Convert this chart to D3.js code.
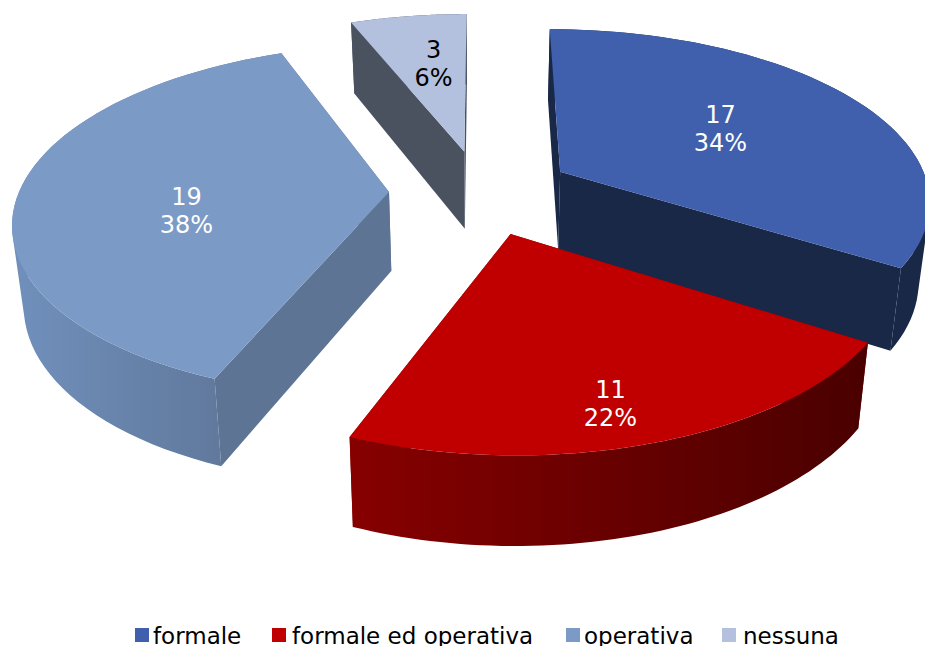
<!DOCTYPE html>
<html><head><meta charset="utf-8">
<script src="https://cdn.jsdelivr.net/npm/d3@7/dist/d3.min.js"></script>
<style>html,body{margin:0;padding:0;background:#fff;overflow:hidden}svg{display:block}text{font-family:"DejaVu Sans",sans-serif}</style>
</head><body><svg id="c" width="925" height="646"></svg>
<script>
const categories = ["formale","formale ed operativa","operativa","nessuna"];
const values = [17,11,19,3];
const percents = ["34%","22%","38%","6%"];
const topColors = ["#4060AE","#C00000","#7C9AC6","#B3C1DE"];
const wallColors = ["#1A2848","#7E0000","#5E7495","#4A5260"];
const wallGradFrom = ["#1A2848","#870000","#7090BC","#4A5260"];
const wallGradTo = ["#1A2848","#4A0000","#5C7293","#4A5260"];
const labelColors = ["#fff","#fff","#fff","#000"];
const labelNudgeX = [-5,26,1,2];
const labelNudgeY = [-3,62,17,-11];
const legendX = [135,272,566,722];
const textX = [153,292,584,743];

const cx=481, cy=192, R=370, explode=92, d=2400, k=0.463, p=1.03, depth=79, shrink=0.975;
const svg=d3.select("#c");
const defs=svg.append("defs");
const pie=d3.pie().sort(null).value(v=>v)(values);
const proj=(X,Y,bottom)=>{
  const s=1/(1+Y/d);
  let x=cx+X*s, y=cy-k*Y*Math.pow(s,p);
  if(bottom){ x=cx+(x-cx)*shrink; y+=depth*Math.pow(s,0.65); }
  return [x,y];
};
const line=d3.line();
// keeps every quad wound the same way, so overlaps in one path never cancel
const wound=q=>d3.polygonArea(q)<0?q.slice().reverse():q;
const slices=pie.map((a,i)=>{
  const mid=(a.startAngle+a.endAngle)/2;
  const ox=explode*Math.sin(mid), oy=explode*Math.cos(mid);
  const pt=(ang,r,b)=>proj(ox+r*Math.sin(ang),oy+r*Math.cos(ang),b);
  const angs=d3.range(0,61).map(j=>a.startAngle+(a.endAngle-a.startAngle)*j/60);
  return {i,mid,pt,angs};
});
// painter's order: back slices first
[3,2,0,1].forEach(i=>{
  const sl=slices[i], g=svg.append("g"), {pt,angs}=sl;
  const apexT=pt(0,0,false), apexB=pt(0,0,true);
  const arcT=angs.map(a=>pt(a,R,false)), arcB=angs.map(a=>pt(a,R,true));
  const xs=d3.extent(arcT,q=>q[0]);
  const grad=defs.append("linearGradient").attr("id","w"+i).attr("gradientUnits","userSpaceOnUse")
    .attr("x1",xs[0]).attr("x2",xs[1]).attr("y1",0).attr("y2",0);
  grad.append("stop").attr("offset",0).attr("stop-color",wallGradFrom[i]);
  grad.append("stop").attr("offset",1).attr("stop-color",wallGradTo[i]);
  g.append("path").attr("d",line([apexT,arcT[0],arcB[0],apexB])+"Z").attr("fill",wallColors[i]);
  g.append("path").attr("d",line([apexT,arcT[60],arcB[60],apexB])+"Z").attr("fill",wallColors[i]);
  g.append("path").attr("fill","url(#w"+i+")")
    .attr("d",d3.range(60).map(j=>line(wound([arcT[j],arcT[j+1],arcB[j+1],arcB[j]]))+"Z").join(""));
  g.append("path").attr("d",line([apexT].concat(arcT))+"Z").attr("fill",topColors[i]);
});
// data labels
slices.forEach(sl=>{
  const [x0,y0]=sl.pt(sl.mid,R*0.55,false);
  const x=x0+labelNudgeX[sl.i], y=y0+labelNudgeY[sl.i];
  const t=svg.append("text").attr("text-anchor","middle").attr("fill",labelColors[sl.i]).attr("font-size",24);
  t.append("tspan").attr("x",x).attr("y",y-4).text(values[sl.i]);
  t.append("tspan").attr("x",x).attr("y",y+24).text(percents[sl.i]);
});
// legend
const lg=svg.selectAll("g.lg").data(categories).join("g").attr("class","lg");
lg.append("rect").attr("x",(c,i)=>legendX[i]).attr("y",628).attr("width",14).attr("height",14).attr("fill",(c,i)=>topColors[i]);
lg.append("text").attr("x",(c,i)=>textX[i]).attr("y",644).attr("font-size",23).attr("fill","#000").text(c=>c);
</script></body></html>
